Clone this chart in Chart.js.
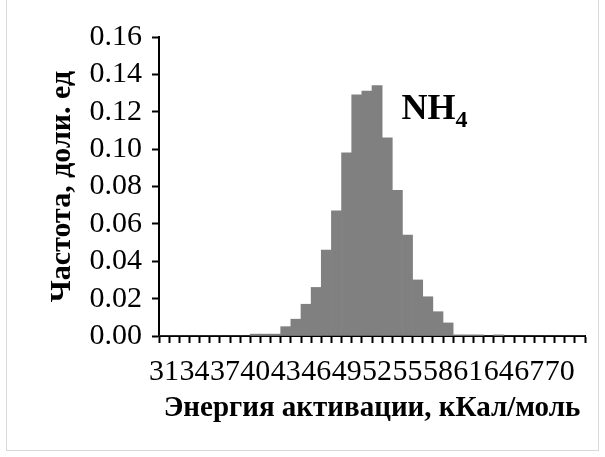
<!DOCTYPE html>
<html>
<head>
<meta charset="utf-8">
<script src="https://cdn.jsdelivr.net/npm/chart.js@4/dist/chart.umd.min.js"></script>
<style>
html,body{margin:0;padding:0;background:#fff;}
#wrap{width:605px;height:457px;position:relative;}
</style>
</head>
<body>
<div id="wrap"><canvas id="c" width="605" height="457"></canvas></div>
<script>
const categories = [31,32,33,34,35,36,37,38,39,40,41,42,43,44,45,46,47,48,49,50,51,52,53,54,55,56,57,58,59,60,61,62,63,64,65,66,67,68,69,70,71,72];
const frequency = [0,0,0,0,0,0,0,0,0,0.001,0.001,0.001,0.005,0.009,0.017,0.026,0.046,0.067,0.098,0.129,0.131,0.134,0.106,0.078,0.054,0.030,0.021,0.013,0.007,0.0006,0.0006,0.0006,0,0.0006,0,0,0,0,0,0,0,0];
const yTicks = [0,0.02,0.04,0.06,0.08,0.10,0.12,0.14,0.16];
const xTitle = 'Энергия активации, кКал/моль';
const yTitle = 'Частота, доли. ед';
const seriesLabel = 'NH';
const seriesSub = '4';
const labelCategory = 55;
const labelValue = 0.116;

const SERIF = "'Liberation Serif','Times New Roman',serif";

const frame = {
  id: 'frame',
  beforeDraw(chart) {
    const ctx = chart.ctx;
    ctx.save();
    ctx.fillStyle = '#fff';
    ctx.fillRect(0, 0, chart.width, chart.height);
    ctx.strokeStyle = '#d9d9d9';
    ctx.lineWidth = 1;
    ctx.strokeRect(6.5, -2, 592, 452.5);
    ctx.restore();
  }
};

const seriesTag = {
  id: 'seriesTag',
  afterDatasetsDraw(chart) {
    const ctx = chart.ctx;
    const xs = chart.scales.x, ys = chart.scales.y;
    const idx = categories.indexOf(labelCategory);
    const step = xs.getPixelForValue(1) - xs.getPixelForValue(0);
    const left = xs.getPixelForValue(idx) - step / 2;
    const base = ys.getPixelForValue(labelValue);
    ctx.save();
    ctx.fillStyle = '#000';
    ctx.textBaseline = 'alphabetic';
    ctx.textAlign = 'left';
    ctx.font = 'bold 36px ' + SERIF;
    ctx.fillText(seriesLabel, left - 1, base);
    const w = ctx.measureText(seriesLabel).width;
    ctx.font = 'bold 24px ' + SERIF;
    ctx.fillText(seriesSub, left - 1 + w, base + 8);
    ctx.restore();
  }
};

new Chart(document.getElementById('c'), {
  type: 'bar',
  data: {
    labels: categories.map(String),
    datasets: [{
      data: frequency,
      backgroundColor: '#808080',
      borderWidth: 0,
      barPercentage: 1,
      categoryPercentage: 1
    }]
  },
  options: {
    responsive: false,
    animation: false,
    devicePixelRatio: 1,
    layout: { padding: { left: 8, right: 20, top: 37, bottom: 31 } },
    plugins: { legend: { display: false }, tooltip: { enabled: false } },
    scales: {
      x: {
        type: 'category',
        offset: true,
        grid: {
          offset: true,
          drawOnChartArea: false,
          drawTicks: true,
          tickLength: 7,
          tickWidth: 2,
          tickColor: '#000'
        },
        border: { display: true, color: '#000', width: 2 },
        ticks: {
          autoSkip: false,
          maxRotation: 0,
          minRotation: 0,
          padding: 11,
          color: '#000',
          font: { family: SERIF, size: 30 },
          callback: function(v, i) { return i % 3 === 0 ? String(categories[i]) : ''; }
        },
        title: {
          display: true,
          text: xTitle,
          color: '#000',
          font: { family: SERIF, size: 29, weight: 'bold' },
          padding: { top: 0, bottom: 0 }
        },
        afterFit(s) { s.height = 457 - 336 - 31; s.paddingLeft = 0; s.paddingRight = 0; }
      },
      y: {
        min: 0,
        max: 0.16,
        afterBuildTicks(s) { s.ticks = yTicks.map(v => ({ value: v })); },
        grid: {
          drawOnChartArea: false,
          drawTicks: true,
          tickLength: 7,
          tickWidth: 2,
          tickColor: '#000'
        },
        border: { display: true, color: '#000', width: 2 },
        ticks: {
          autoSkip: false,
          padding: 10,
          color: '#000',
          font: { family: SERIF, size: 30, lineHeight: 1 },
          callback: v => Number(v).toFixed(2)
        },
        title: {
          display: true,
          text: yTitle,
          color: '#000',
          font: { family: SERIF, size: 30, weight: 'bold' },
          padding: { top: 36, bottom: 0 }
        },
        afterFit(s) { s.width = 159 - 8; s.paddingTop = 0; s.paddingBottom = 0; }
      }
    }
  },
  plugins: [frame, seriesTag]
});
</script>
</body>
</html>
